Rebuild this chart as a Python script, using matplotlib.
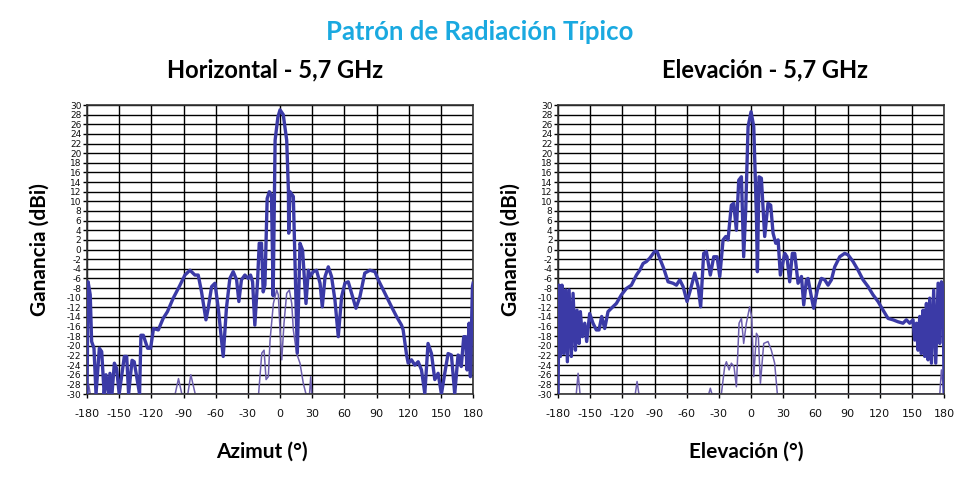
import matplotlib.pyplot as plt
import numpy as np

# Horizontal (azimut) - copolar
az_deg = [-180, -179, -177, -175.7, -173.5, -171.6, -168.5, -166.3, -164, -162.3, -160,
          -158.6, -156.7, -154.5, -152.4, -150, -145.2, -143, -141.2, -138, -136, -131,
          -129.7, -127.5, -123.5, -120.7, -118, -113.5, -109, -105, -99.6, -93.3, -88.7,
          -84, -79.4, -76.3, -73.2, -69.1, -67, -63.8, -60.7, -57.6, -53, -50, -46.8,
          -43.7, -40.5, -38.4, -36, -32.8, -29.7, -27.5, -25.6, -23.5, -21, -19.4, -17.3,
          -15.7, -14.1, -12, -10, -8, -6.4, -4.6, -2, 0, 3, 6.2, 7.8, 8.1, 9.3, 12.4,
          16.1, 18.6, 21, 24.2, 26.4, 28, 31, 34, 37.3, 39.4, 42, 45, 48, 51.2, 54.3,
          57.4, 60.5, 63.6, 66.7, 70.8, 74.5, 79, 83.8, 88.5, 91.6, 94.7, 99.3, 104,
          108.6, 113.3, 114.8, 118, 119.5, 122.6, 125.7, 128.8, 131.9, 135, 138, 141.2,
          144.3, 147.4, 150.5, 153.6, 156.7, 159.8, 162.9, 166, 167.6, 169, 171.3, 173,
          174.4, 176.3, 177.5, 179.4, 180]
az_co = [-30, -6.7, -9.4, -19.1, -20.5, -30, -20.5, -21.2, -30, -26, -30,
         -25.7, -30, -23.6, -24.7, -30, -22.2, -22.2, -30, -23, -23.3, -30,
         -17.8, -17.8, -20.5, -20.5, -16.4, -16.7, -14.3, -12.9, -10.1, -7.4, -5.3,
         -4.3, -5.3, -5.3, -8.8, -14.6, -12.2, -7.7, -7, -12.2, -22.2, -12.2, -6,
         -4.6, -6.3, -10.8, -6.3, -5.3, -6, -5.3, -6.7, -15.7, -6.7, 1.3, 1.3,
         -8.8, -7.4, 10.6, 12, 11.3, -9.6, 22.7, 27.5, 29, 28, 22.7, 12.3, 3.4, 12, 11,
         -21.5, 1.3, -0.1, -11.2, -4.3, -5.6, -4.6, -4.3, -7, -11.9, -5.6, -3.6, -5.6, -10.5, -18.1,
         -9.8, -7, -6.7, -9.1, -12.2, -9.8, -4.9, -4.3, -4.6, -6.3, -7.7, -9.8, -11.9,
         -13.9, -15.7, -16.7, -21.9, -23.6, -22.9, -24, -23.3, -25, -29.9, -19.5, -21.6,
         -27, -25.7, -30, -25.7, -21.6, -21.9, -30, -21.9, -22.2, -24.3, -18.1, -18.1,
         -25, -15.3, -26.4, -7.7, -7]

# Horizontal - contrapolar
az_x_deg = [-180, -178.5, -177, -97.8, -94.7, -91.6, -86, -83.2, -79.1, -20, -17, -14.9, -13,
            -10.9, -9.3, -6.2, -3.1, -1.6, 0, 1.6, 3.7, 6.2, 8.7, 10.9, 12.4, 15.5, 18.6,
            21.7, 24.2, 27.5, 28.6, 29.6]
az_x = [-30, -28, -30, -30, -26.8, -30, -30, -26, -30, -30, -21.5, -20.9, -27,
        -26.4, -18.8, -11.2, -8.4, -9.4, -16.7, -22.9, -15.3, -9.1, -8.4, -11.2, -16.7, -21.6, -23.6,
        -27.8, -30, -30, -26.4, -30]

# Elevacion - copolar
el_deg = [-180, -179, -177.8, -176.3, -174.7, -172.9, -171.3, -169.7, -167.6, -166, -163.8,
          -162.3, -160.4, -159.2, -157.3, -155.1, -153.3, -150.5, -147.4, -144.3, -141.8,
          -139.3, -136.5, -133.4, -130.3, -125.6, -120.9, -116.3, -111.6, -106.9, -103.8,
          -100.7, -97.6, -94.5, -89.9, -87.7, -85.2, -81.5, -77.4, -72.8, -69.6, -66.5,
          -63.4, -59.7, -56.6, -52.5, -49.4, -47, -44.2, -41.7, -38, -34.8, -31.7, -29.2,
          -26.1, -23.6, -21.5, -18.4, -16.2, -13.7, -11.5, -9, -6.9, -5, -2.8, 0, 2.5, 5,
          5.9, 7.4, 9.6, 12.7, 15.8, 18.3, 20.5, 23, 25.2, 27.3, 31.4, 33.5, 36, 38.5,
          40.7, 43.8, 47, 49.1, 51.6, 53.1, 56.2, 58.4, 61.8, 65.6, 68.7, 71.8, 74.9, 78,
          82.7, 87.3, 90.4, 95.1, 99.8, 104.4, 109.1, 113.7, 118.4, 123.1, 127.7, 132.4,
          137, 141.7, 144.8, 147.9, 151, 152.6, 154.2, 155.7, 157.3, 158.8, 160.4, 162,
          163.5, 165, 166.6, 168.2, 170.3, 172.2, 174.4, 175.9, 177.5, 179, 180]
el_co = [-30, -7.4, -22.2, -7.4, -21.6, -8.4, -23.3, -8.4, -22.2, -9.1, -20.9,
         -12.6, -19.5, -12.9, -18.1, -15.3, -19.1, -13.3, -15.3, -16.7, -16.7,
         -13.9, -16.4, -12.9, -12.2, -11.2, -9.4, -8.1, -7.4, -5.3, -4.3,
         -2.9, -2.5, -1.8, -0.4, -0.4, -1.8, -3.9, -6.7, -7, -7.4, -6.3,
         -7.7, -10.8, -8.4, -4.9, -7.7, -11.9, -0.8, -0.4, -5.3, -1.5, -1.5, -5.6,
         2, 2.7, 2, 9.2, 9.6, 4, 14.4, 15.1, -1.5, 8.2, 25.5, 28.6, 25.5, 6.8,
         -4.6, 15.1, 14.8, 2.7, 9.6, 9.2, 3.4, 1.3, 2, -5.3, -0.8, -1.5, -6.7, -0.8,
         -0.8, -7, -5.6, -11.5, -6.3, -6, -9.8, -12.2, -8.4, -6, -6.3, -7.4, -6.3, -3.6,
         -1.5, -0.8, -1.1, -2.5, -4.3, -6.3, -7.7, -9.4, -10.8, -12.6, -14.3, -14.6,
         -15, -15.3, -14.6, -15.3, -14.6, -18.8, -15.3, -20.9, -13.9, -21.6, -12.6, -22.2,
         -11.2, -22.9, -10.1, -23.6, -8.4, -23.6, -7, -19.5, -6.7, -7.7, -29.5]

# Elevacion - contrapolar
el_x_deg = [-163, -161.3, -159.5, -108, -106.3, -104.6, -39.5, -38, -36.5, -27.7, -24.6, -23,
            -20.5, -18.4, -15.9, -13.7, -11.2, -9, -6.9, -4.4, -1.3, 0.6, 2.5, 5, 6.8, 8.7,
            11.8, 15.8, 18.9, 22, 24.5, 176, 177.5, 180]
el_x = [-30, -25.7, -30, -30, -27.4, -30, -30, -28.8, -30, -30, -24.3, -23.3,
        -25, -23.6, -24.3, -28.5, -15.3, -14.3, -19.5, -15.3, -11.9, -14, -26.4, -17.4, -18.1, -27.8,
        -19.5, -19.1, -20.9, -23.6, -30, -30, -25, -30]

xticks = np.arange(-180, 181, 30)
yticks = np.arange(-30, 31, 2)

CO_COLOR = '#3b3aa6'
X_COLOR = '#6d5fae'
TICK_FONT = ['Liberation Sans Narrow', 'DejaVu Sans']
LABEL_FONT = ['Lato', 'DejaVu Sans']


def draw_panel(ax, ang, co, ang_x, xp, subtitle, title_x, xlabel, xlabel_x):
	ax.plot(ang, co, color=CO_COLOR, linewidth=2.4, solid_joinstyle='round', zorder=3)
	ax.plot(ang_x, xp, color=X_COLOR, linewidth=1.1, zorder=2)
	ax.set_xlim(-180, 180)
	ax.set_ylim(-30, 30)
	ax.set_xticks(xticks)
	ax.set_yticks(yticks)
	ax.set_xticklabels([str(t) for t in xticks], fontsize=8, family=TICK_FONT, color='#111111')
	ax.set_yticklabels([str(t) for t in yticks], fontsize=6.5, family=TICK_FONT, color='#111111')
	ax.tick_params(axis='both', length=3, width=1.0, color='black', pad=1)
	ax.tick_params(axis='x', pad=8)
	ax.grid(True, color='black', linewidth=1.0)
	ax.set_axisbelow(True)
	for sp in ax.spines.values():
		sp.set_color('#333333')
		sp.set_linewidth(1.2)
	ax.set_title(subtitle, fontsize=17, fontweight='bold', family=LABEL_FONT, pad=20, x=title_x)
	ax.set_xlabel(xlabel, fontsize=15, fontweight='bold', family=LABEL_FONT, labelpad=16)
	ax.xaxis.set_label_coords(xlabel_x, -0.165)
	ax.set_ylabel('Ganancia (dBi)', fontsize=15, fontweight='bold', family=LABEL_FONT, labelpad=12)


fig = plt.figure(figsize=(9.7, 4.94), dpi=100)
ax1 = fig.add_axes([0.0897, 0.2024, 0.398, 0.585])
ax2 = fig.add_axes([0.5753, 0.2024, 0.398, 0.585])

draw_panel(ax1, az_deg, az_co, az_x_deg, az_x, 'Horizontal - 5,7 GHz', 0.487,
           'Azimut (°)', 0.453)
draw_panel(ax2, el_deg, el_co, el_x_deg, el_x, 'Elevación - 5,7 GHz', 0.535,
           'Elevación (°)', 0.487)

fig.text(0.495, 0.935, 'Patrón de Radiación Típico', ha='center', va='center',
         fontsize=18.5, fontweight='bold', family=LABEL_FONT, color='#1aa9e0')

fig.savefig('out.png', dpi=100)
